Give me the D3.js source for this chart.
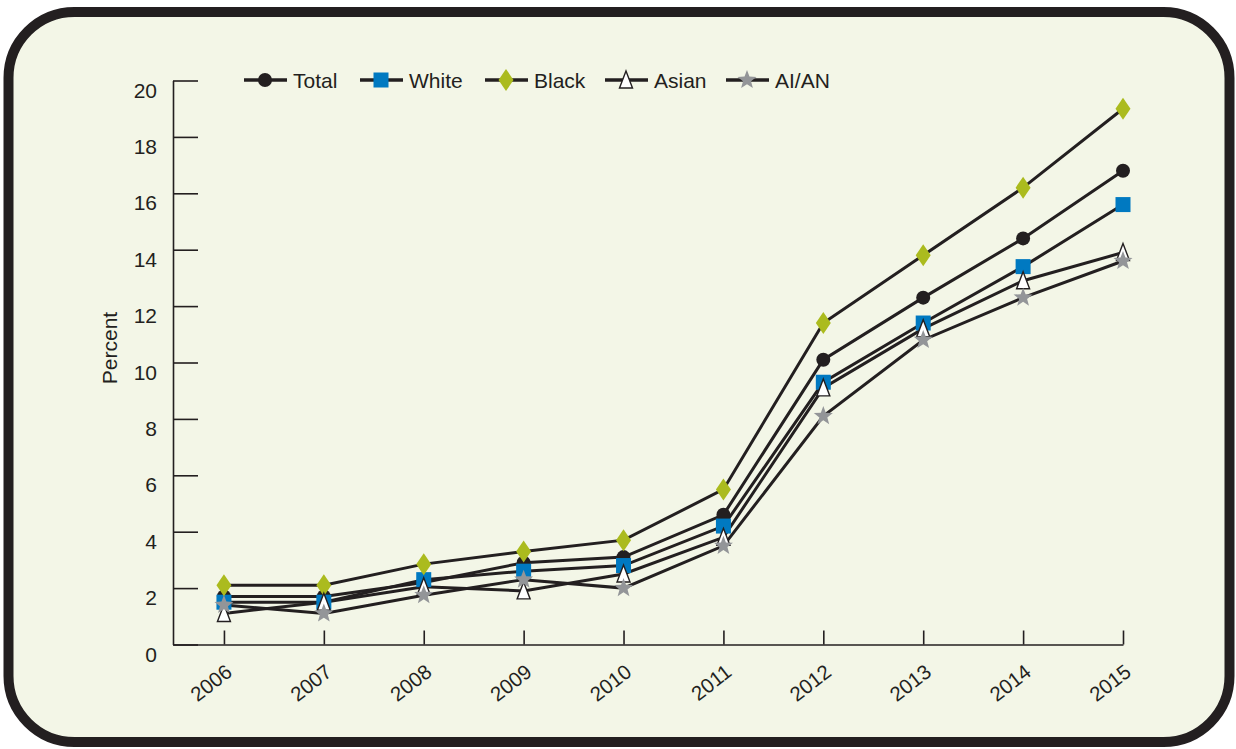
<!DOCTYPE html>
<html lang="en">
<head>
<meta charset="utf-8">
<title>Percent by group, 2006-2015</title>
<style>
body{
  margin: 0;
  background: #fff;
}
svg text{
  font-family: "Liberation Sans", Arial, sans-serif;
  fill: #231f20;
}
.axis path, .axis line{
  fill: none;
  stroke: #231f20;
  stroke-width: 1.6;
}
</style>
</head>
<body>
<div id="chart"></div>
<script src="https://d3js.org/d3.v7.min.js"></script>
<script>
// data
var years = [2006, 2007, 2008, 2009, 2010, 2011, 2012, 2013, 2014, 2015];
var total = [1.7, 1.7, 2.2, 2.9, 3.1, 4.6, 10.1, 12.3, 14.4, 16.8];
var white = [1.5, 1.5, 2.3, 2.6, 2.8, 4.2, 9.3, 11.4, 13.4, 15.6];
var black = [2.1, 2.1, 2.85, 3.3, 3.7, 5.5, 11.4, 13.8, 16.2, 19.0];
var asian = [1.1, 1.5, 2.05, 1.9, 2.5, 3.8, 9.1, 11.2, 12.9, 13.9];
var aian  = [1.4, 1.1, 1.75, 2.3, 2.0, 3.5, 8.1, 10.8, 12.3, 13.6];
var yTicks = [0, 2, 4, 6, 8, 10, 12, 14, 16, 18, 20];

var series = [
  {name: "Total", values: total, shape: "circle"},
  {name: "White", values: white, shape: "square"},
  {name: "Black", values: black, shape: "diamond"},
  {name: "Asian", values: asian, shape: "triangle"},
  {name: "AI/AN", values: aian, shape: "star"}
];

var ink = "#231f20";

var svg = d3.select("#chart").append("svg")
  .attr("width", 1236)
  .attr("height", 749);

// rounded frame
svg.append("rect")
  .attr("x", 8.5).attr("y", 12)
  .attr("width", 1221).attr("height", 730)
  .attr("rx", 66).attr("ry", 66)
  .attr("fill", "#f3f6e7")
  .attr("stroke", ink)
  .attr("stroke-width", 10);

var x = d3.scaleLinear()
  .domain([2005.49, 2015])
  .range([173, 1123]);
var y = d3.scaleLinear()
  .domain([0, 20])
  .range([644.5, 80.5]);

// axes
var yAxis = d3.axisLeft(y)
  .tickValues(yTicks)
  .tickSizeInner(-25)
  .tickSizeOuter(0)
  .tickPadding(16);
svg.append("g")
  .attr("class", "axis")
  .attr("transform", "translate(173,0)")
  .call(yAxis)
  .selectAll("text")
  .style("font-size", "21px")
  .attr("dy", "0.36em")
  .attr("transform", "translate(0,9)");

var xAxis = d3.axisBottom(x)
  .tickValues(years)
  .tickFormat(d3.format("d"))
  .tickSizeInner(-14)
  .tickSizeOuter(0);
var xg = svg.append("g")
  .attr("class", "axis")
  .attr("transform", "translate(0,644.5)")
  .call(xAxis);
xg.selectAll("text")
  .style("font-size", "20.5px")
  .attr("text-anchor", "end")
  .attr("dy", null)
  .attr("y", null)
  .attr("transform", "translate(9,30) rotate(-38)");

svg.append("text")
  .attr("transform", "translate(117,348) rotate(-90)")
  .attr("text-anchor", "middle")
  .style("font-size", "21px")
  .text("Percent");

// markers
function drawMarker(g, shape) {
  if (shape === "circle") {
    g.append("circle").attr("r", 7).attr("fill", ink);
  } else if (shape === "square") {
    g.append("rect").attr("x", -7.5).attr("y", -7.5)
      .attr("width", 15).attr("height", 15).attr("fill", "#0079c1");
  } else if (shape === "diamond") {
    g.append("path").attr("d", "M0,-11L7.5,0L0,11L-7.5,0Z").attr("fill", "#abbb1e");
  } else if (shape === "triangle") {
    g.append("path").attr("d", "M0,-9L6.5,8L-6.5,8Z")
      .attr("fill", "#fff").attr("stroke", ink).attr("stroke-width", 1.4);
  } else {
    var pts = [];
    for (var i = 0; i < 10; i++) {
      var r = i % 2 === 0 ? 10 : 4.2;
      var a = -Math.PI / 2 + i * Math.PI / 5;
      pts.push([r * Math.cos(a), r * Math.sin(a)]);
    }
    g.append("path").attr("d", "M" + pts.join("L") + "Z").attr("fill", "#939598");
  }
}

var line = d3.line()
  .x((d, i) => x(years[i]))
  .y((d) => y(d));

svg.append("g").selectAll("path").data(series)
  .enter().append("path")
  .attr("d", (s) => line(s.values))
  .attr("fill", "none")
  .attr("stroke", ink)
  .attr("stroke-width", 3);

series.forEach((s) => {
  s.values.forEach((v, i) => {
    var g = svg.append("g").attr("transform", `translate(${x(years[i])},${y(v)})`);
    drawMarker(g, s.shape);
  });
});

// legend
var legendX = [244, 360, 485, 605, 726];
series.forEach((s, i) => {
  var lg = svg.append("g").attr("transform", `translate(${legendX[i]},80)`);
  lg.append("line")
    .attr("x1", 0).attr("x2", 43)
    .attr("stroke", ink).attr("stroke-width", 3.5);
  var m = lg.append("g").attr("transform", "translate(21,0)");
  drawMarker(m, s.shape);
  lg.append("text")
    .attr("x", 49).attr("y", 7.5)
    .style("font-size", "21px")
    .text(s.name);
});
</script>
</body>
</html>
